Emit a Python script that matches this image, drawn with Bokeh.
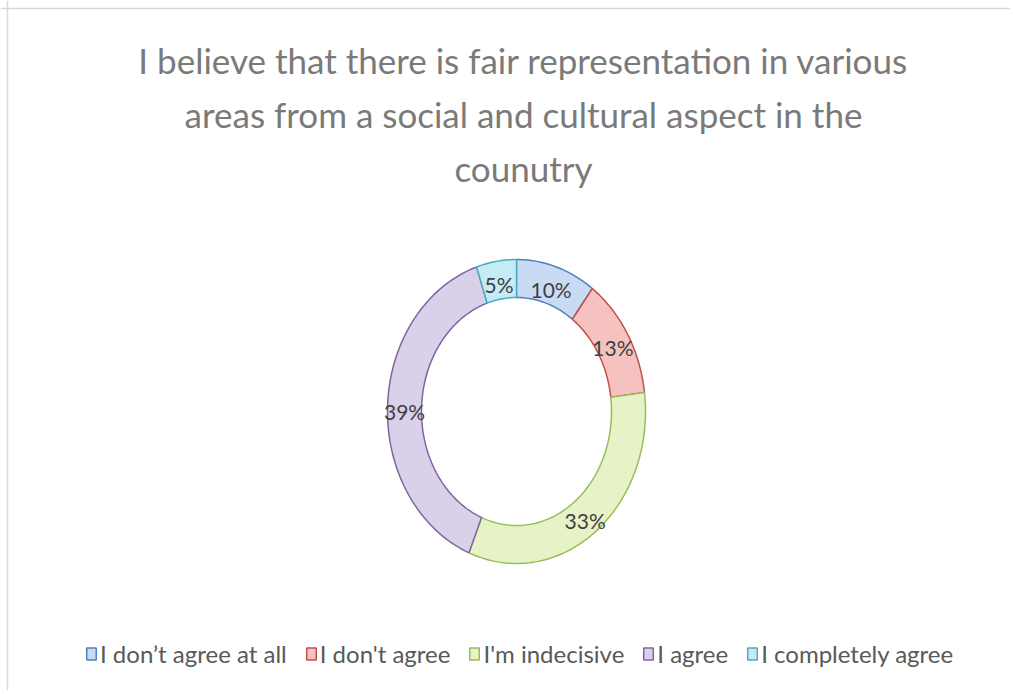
import math
from bokeh.plotting import figure
from bokeh.models import Range1d, Span, Legend, LegendItem
from bokeh.core.properties import value
from bokeh.embed import file_html
from bokeh.resources import INLINE

# ---- data ----
categories = ["I don\u2019t agree at all", "I don't agree", "I'm indecisive", "I agree", "I completely agree"]
percents = [10, 13, 33, 39, 5]
fill_colors = ["#c9daf3", "#f6c2c0", "#e5f3c6", "#d9d0ea", "#c5ebf4"]
line_colors = ["#4f81bd", "#c0504d", "#9bbb59", "#8064a2", "#4bacc6"]
title_lines = [
    "I believe that there is fair representation in various",
    "areas from a social and cultural aspect in the",
    "counutry",
]

W, H = 1010, 690
FONT = "Lato"

p = figure(width=W, height=H, output_backend="svg", toolbar_location=None,
           x_range=Range1d(0, W), y_range=Range1d(H, 0), min_border=0)
p.axis.visible = False
p.grid.visible = False
p.outline_line_color = None
p.background_fill_color = "white"
p.border_fill_color = "white"

# chart-area border (top and left visible in reference)
p.add_layout(Span(location=8, dimension="width", line_color="#d9d9d9", line_width=1.5))
p.add_layout(Span(location=7, dimension="height", line_color="#d9d9d9", line_width=1.5))

# title
title_y = [59, 113, 167]
p.text(x=[523] * 3, y=title_y, text=title_lines, text_align="center",
       text_baseline="middle", text_color="#7a7a7a", text_font=value(FONT),
       text_font_size="35px")

# doughnut (elliptical, as in the reference)
cx, cy = 516, 411
rx_o, ry_o = 129, 152
rx_i, ry_i = 95, 114
total = sum(percents)
renderers = []
start = 0.0
lab_x, lab_y, lab_t = [], [], []
for cat, pc, fc, lc in zip(categories, percents, fill_colors, line_colors):
    a0 = start / total * 2 * math.pi
    a1 = (start + pc) / total * 2 * math.pi
    n = max(int(pc * 3), 6)
    angs = [a0 + (a1 - a0) * k / n for k in range(n + 1)]
    xs = [cx + rx_o * math.sin(a) for a in angs] + [cx + rx_i * math.sin(a) for a in reversed(angs)]
    ys = [cy - ry_o * math.cos(a) for a in angs] + [cy - ry_i * math.cos(a) for a in reversed(angs)]
    r = p.patch(xs, ys, fill_color=fc, line_color=lc, line_width=1.5)
    renderers.append((cat, r))
    am = (a0 + a1) / 2
    lab_x.append(cx + (rx_o + rx_i) / 2 * math.sin(am))
    lab_y.append(cy - (ry_o + ry_i) / 2 * math.cos(am) + 4)
    lab_t.append(f"{pc}%")
    start += pc

p.text(x=lab_x, y=lab_y, text=lab_t, text_align="center", text_baseline="middle",
       text_color="#404040", text_font=value(FONT), text_font_size="21px")

legend = Legend(items=[LegendItem(label=c, renderers=[r]) for c, r in renderers],
                orientation="horizontal", location=(85, 22),
                label_text_font=FONT, label_text_font_size="24px",
                label_text_color="#595959", glyph_width=12, glyph_height=15,
                label_standoff=3, spacing=18, padding=0, margin=0,
                border_line_color=None, background_fill_alpha=0)
p.add_layout(legend, "center")

open("out.html", "w").write(file_html(p, INLINE))
